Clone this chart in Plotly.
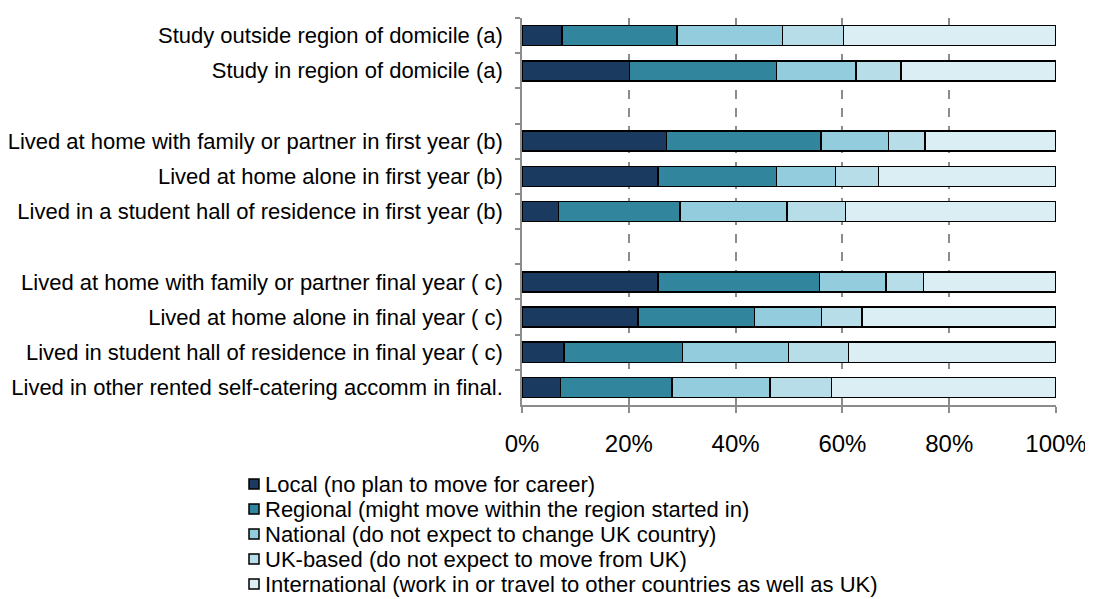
import plotly.graph_objects as go

categories = [
    "Study outside region of domicile (a)",
    "Study in region of domicile (a)",
    " ",
    "Lived at home with family or partner in first year (b)",
    "Lived at home alone in first year (b)",
    "Lived in a student hall of residence in first year (b)",
    "  ",
    "Lived at home with family or partner final year ( c)",
    "Lived at home alone in final year ( c)",
    "Lived in student hall of residence in final year ( c)",
    "Lived in other rented self-catering accomm in final.",
]

series_names = [
    "Local (no plan to move for career)",
    "Regional (might move within the region started in)",
    "National (do not expect to change UK country)",
    "UK-based (do not expect to move from UK)",
    "International (work in or travel to other countries as well as UK)",
]

local = [7.5, 20.1, None, 27.1, 25.5, 6.8, None, 25.5, 21.7, 7.9, 7.2]
regional = [21.5, 27.6, None, 28.9, 22.2, 22.8, None, 30.2, 21.8, 22.2, 20.9]
national = [19.8, 14.8, None, 12.6, 11.0, 20.0, None, 12.5, 12.6, 19.8, 18.3]
uk_based = [11.4, 8.5, None, 6.9, 8.1, 11.0, None, 7.0, 7.6, 11.2, 11.6]
international = [39.8, 29.0, None, 24.5, 33.2, 39.4, None, 24.8, 36.3, 38.9, 42.0]

colors = ["#1b3a5f", "#31859c", "#93cddd", "#b7dee8", "#dbeef4"]
x_tick_vals = [0, 20, 40, 60, 80, 100]
x_tick_text = ["0%", "20%", "40%", "60%", "80%", "100%"]

FONT = "Liberation Sans, Arial, sans-serif"
OFF = 8  # default body margin of the html page
W, H = 1093 - OFF, 599 - OFF
L, R, T, B = 522 - OFF, 37, 18 - OFF, 194
PW, PH = W - L - R, H - T - B

fig = go.Figure()
for name, vals, col in zip(series_names,
                           [local, regional, national, uk_based, international],
                           colors):
    fig.add_trace(go.Bar(
        y=categories, x=vals, name=name, orientation="h",
        marker=dict(color=col, line=dict(color="#000000", width=1.5)),
        showlegend=False,
    ))

# custom legend (tight line spacing like the original); page pixel coords
def px_x(p):
    return (p - OFF - L) / PW

def px_y(p):
    return (T + PH - (p - OFF)) / PH

leg_y0, leg_dy = 484, 25
for i, (name, col) in enumerate(zip(series_names, colors)):
    cy = leg_y0 + i * leg_dy
    fig.add_shape(type="rect", xref="paper", yref="paper",
                  x0=px_x(249), x1=px_x(259), y0=px_y(cy + 5), y1=px_y(cy - 5),
                  fillcolor=col, line=dict(color="#000000", width=1.5))
    fig.add_annotation(text=name, xref="paper", yref="paper",
                       x=px_x(263), y=px_y(cy), xanchor="left", yanchor="middle",
                       showarrow=False, font=dict(family=FONT, size=22, color="#000000"))

fig.update_layout(
    width=W, height=H,
    margin=dict(l=L, r=R, t=T, b=B, pad=0, autoexpand=False),
    barmode="stack", bargap=0.43,
    plot_bgcolor="#ffffff", paper_bgcolor="#ffffff",
    font=dict(family=FONT, size=22, color="#000000"),
    showlegend=False,
)
fig.update_xaxes(
    automargin=False,
    range=[0, 100], tickmode="array", tickvals=x_tick_vals, ticktext=x_tick_text,
    showgrid=True, gridcolor="#8c8c8c", gridwidth=1.5, griddash="dash",
    showline=True, linecolor="#8c8c8c", linewidth=1.5,
    ticks="outside", ticklen=6, tickcolor="#8c8c8c", tickwidth=1.5,
    tickfont=dict(size=24), zeroline=False, ticklabelstandoff=10,
)
fig.update_yaxes(
    automargin=False,
    categoryorder="array", categoryarray=categories, autorange="reversed",
    tickson="boundaries", ticks="outside", ticklen=5, tickcolor="#8c8c8c", tickwidth=1.5,
    showline=True, linecolor="#8c8c8c", linewidth=1.5, showgrid=False,
    tickfont=dict(size=22), ticklabelstandoff=13,
)

fig.write_html("out.html")
